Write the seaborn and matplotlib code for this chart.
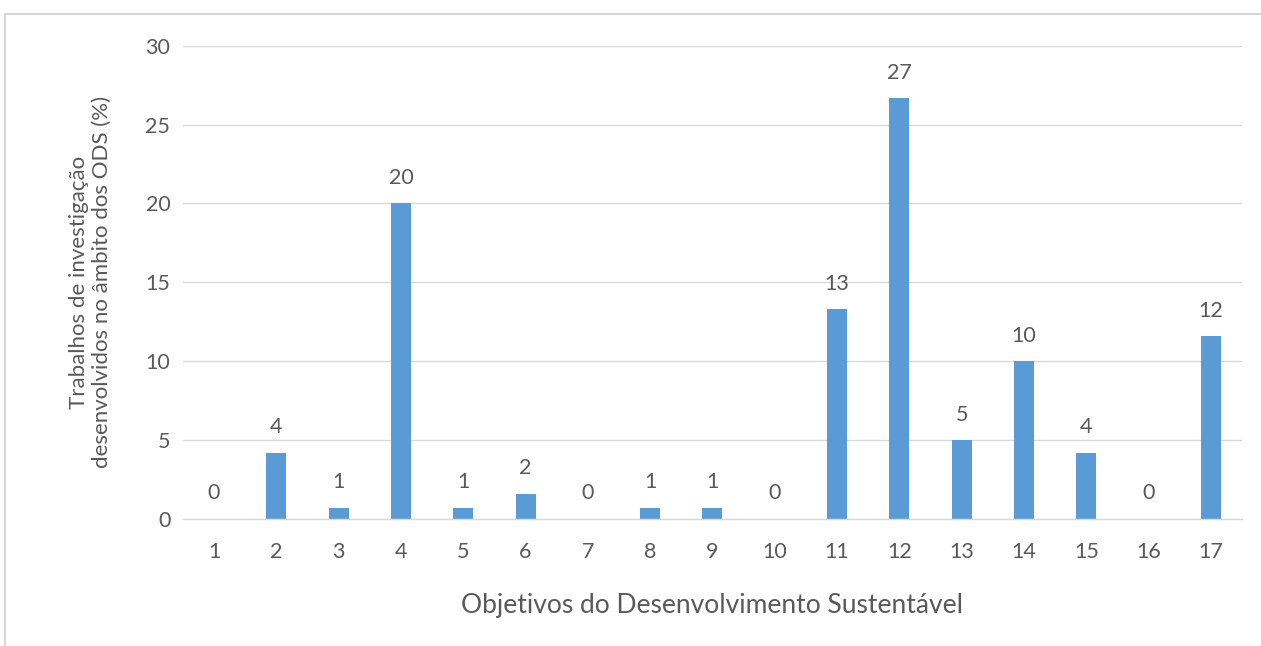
import matplotlib
matplotlib.use("Agg")
import matplotlib.pyplot as plt
import pandas as pd
import seaborn as sns
from matplotlib.patches import Rectangle

# --- Data ---
ods = [str(i) for i in range(1, 18)]
percent = [0, 4.2, 0.7, 20.0, 0.7, 1.6, 0, 0.7, 0.7, 0, 13.3, 26.7, 5.0, 10.0, 4.2, 0, 11.6]
labels = ["0", "4", "1", "20", "1", "2", "0", "1", "1", "0", "13", "27", "5", "10", "4", "0", "12"]

BAR = "#5B9BD5"
TXT = "#595959"
GRID = "#D9D9D9"

sns.set_theme(style="white")
plt.rcParams["font.family"] = ["Lato", "DejaVu Sans"]

df = pd.DataFrame({"ods": ods, "pct": percent})

fig = plt.figure(figsize=(12.61, 6.46), dpi=100)
ax = fig.add_axes([0.145, 0.197, 0.84, 0.732])

sns.barplot(data=df, x="ods", y="pct", color=BAR, width=0.32, saturation=1,
            edgecolor="none", ax=ax)

ax.set_ylim(0, 30)
ax.set_yticks(range(0, 31, 5))
ax.set_xlim(-0.5, 16.5)
ax.yaxis.grid(True, color=GRID, linewidth=1)
ax.set_axisbelow(True)
for s in ["top", "right", "left"]:
    ax.spines[s].set_visible(False)
ax.spines["bottom"].set_color(GRID)
ax.spines["bottom"].set_linewidth(1)
ax.tick_params(axis="both", length=0, labelsize=15.5, labelcolor=TXT)
ax.tick_params(axis="x", pad=17)
ax.tick_params(axis="y", pad=9)

for i, (v, lab) in enumerate(zip(percent, labels)):
    ax.annotate(lab, (i, v), xytext=(0, 11), textcoords="offset points",
                ha="center", va="bottom", fontsize=15.5, color=TXT)

ax.set_xlabel("Objetivos do Desenvolvimento Sustentável", fontsize=19, color=TXT, labelpad=22)
ax.set_ylabel("Trabalhos de investigação\ndesenvolvidos no âmbito dos ODS (%)",
              fontsize=16, color=TXT, labelpad=24)

# light outer frame like the source screenshot
fig.patches.append(Rectangle((5 / 1261, -0.1), 1.2, (646 - 14) / 646 + 0.1,
                             transform=fig.transFigure, fill=False,
                             edgecolor="#D0D0D0", linewidth=1.2))

fig.savefig("out.png", dpi=100, facecolor="white")
